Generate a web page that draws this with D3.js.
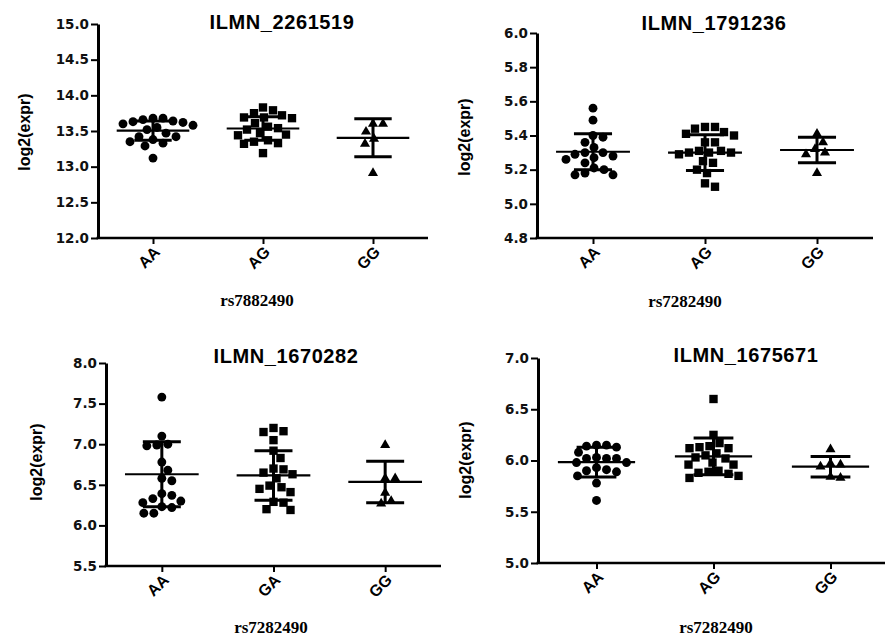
<!DOCTYPE html>
<html>
<head>
<meta charset="utf-8">
<script src="https://cdn.jsdelivr.net/npm/d3@7"></script>
<style>
body { margin: 0; background: #fff; }
</style>
</head>
<body>
<svg id="chart" width="885" height="636"></svg>
<script>
// panel texts
var panelTitles = ["ILMN_2261519", "ILMN_1791236", "ILMN_1670282", "ILMN_1675671"];
var snpLabels = ["rs7882490", "rs7282490", "rs7282490", "rs7282490"];
var genotypes = [["AA", "AG", "GG"], ["AA", "AG", "GG"], ["AA", "GA", "GG"], ["AA", "AG", "GG"]];

// y axes
var yDomains = [[12, 15], [4.8, 6.0], [5.5, 8.0], [5.0, 7.0]];
var yTicks = [
    [12.0, 12.5, 13.0, 13.5, 14.0, 14.5, 15.0],
    [4.8, 5.0, 5.2, 5.4, 5.6, 5.8, 6.0],
    [5.5, 6.0, 6.5, 7.0, 7.5, 8.0],
    [5.0, 5.5, 6.0, 6.5, 7.0]
];

// log2 expression per sample
var p1AA = [13.68, 13.68, 13.66, 13.64, 13.63, 13.62, 13.60, 13.58, 13.55, 13.52, 13.47, 13.42, 13.42, 13.38, 13.35, 13.33, 13.29, 13.12];
var p1AG = [13.83, 13.79, 13.75, 13.72, 13.69, 13.69, 13.68, 13.61, 13.56, 13.54, 13.52, 13.47, 13.45, 13.44, 13.37, 13.35, 13.33, 13.32, 13.19];
var p1GG = [13.60, 13.60, 13.49, 13.39, 13.32, 12.91];

var p2AA = [5.56, 5.49, 5.40, 5.39, 5.36, 5.33, 5.30, 5.30, 5.29, 5.28, 5.27, 5.26, 5.24, 5.21, 5.20, 5.18, 5.17, 5.17];
var p2AG = [5.45, 5.45, 5.44, 5.42, 5.41, 5.40, 5.36, 5.36, 5.31, 5.31, 5.30, 5.30, 5.30, 5.29, 5.25, 5.24, 5.20, 5.18, 5.12, 5.10];
var p2GG = [5.41, 5.36, 5.32, 5.30, 5.29, 5.18];

var p3AA = [7.58, 7.10, 7.00, 6.99, 6.98, 6.78, 6.68, 6.58, 6.55, 6.39, 6.37, 6.33, 6.30, 6.28, 6.23, 6.22, 6.15, 6.15];
var p3GA = [7.20, 7.16, 7.15, 7.05, 6.92, 6.83, 6.70, 6.69, 6.65, 6.63, 6.58, 6.49, 6.47, 6.45, 6.41, 6.29, 6.28, 6.20, 6.19];
var p3GG = [6.99, 6.58, 6.58, 6.40, 6.30, 6.27];

var p4AA = [6.15, 6.15, 6.14, 6.13, 6.08, 6.03, 6.02, 6.02, 6.02, 5.98, 5.98, 5.93, 5.91, 5.90, 5.89, 5.85, 5.78, 5.61];
var p4AG = [6.60, 6.25, 6.17, 6.14, 6.13, 6.12, 6.12, 6.07, 6.05, 6.03, 6.02, 5.98, 5.96, 5.96, 5.90, 5.89, 5.88, 5.87, 5.85, 5.83];
var p4GG = [6.11, 5.97, 5.96, 5.94, 5.84, 5.83];

// mean and SD bars as drawn
var means = [[13.505, 13.535, 13.405], [5.305, 5.30, 5.315], [6.63, 6.615, 6.535], [5.985, 6.04, 5.94]];
var sds = [[0.135, 0.165, 0.265], [0.105, 0.105, 0.075], [0.40, 0.305, 0.255], [0.145, 0.18, 0.10]];

var panelData = [[p1AA, p1AG, p1GG], [p2AA, p2AG, p2GG], [p3AA, p3GA, p3GG], [p4AA, p4AG, p4GG]];

// where each panel sits (the original is a collage)
var layout = [
    {x0: 98,  x1: 428, yb: 238, yt: 24,  tx: 282, ty: 29,  lx: 257, ly: 306, yx: 30,  yy: 132},
    {x0: 537, x1: 873, yb: 238, yt: 33,  tx: 714, ty: 30,  lx: 685, ly: 307, yx: 470, yy: 137},
    {x0: 106, x1: 441, yb: 566, yt: 363, tx: 286, ty: 363, lx: 271, ly: 633, yx: 42,  yy: 462},
    {x0: 538, x1: 889, yb: 563, yt: 358, tx: 746, ty: 362, lx: 716, ly: 633, yx: 471, yy: 460}
];

var symbols = [d3.symbolCircle, d3.symbolSquare, d3.symbolTriangle];
var symbolSizes = [62, 70, 44];

var svg = d3.select("#chart");

// simple beeswarm: spread points with close values sideways
function swarm(values, y, diam) {
    var placed = [];
    var offs = new Array(values.length);
    var order = values.map(function(v, i) { return i; })
        .sort(function(a, b) { return values[b] - values[a]; });
    order.forEach(function(i) {
        var py = y(values[i]);
        for (var k = 0; k < 400; k++) {
            var dx = (k % 2 ? 1 : -1) * Math.ceil(k / 2);
            var ok = placed.every(function(p) {
                return (p.x - dx) * (p.x - dx) + (p.y - py) * (p.y - py) >= diam * diam;
            });
            if (ok) {
                offs[i] = dx;
                placed.push({x: dx, y: py});
                break;
            }
        }
    });
    return offs;
}

panelData.forEach(function(groups, pi) {
    var L = layout[pi];
    var g = svg.append("g");

    var x = d3.scalePoint().domain(genotypes[pi]).range([L.x0, L.x1]).padding(0.5);
    var y = d3.scaleLinear().domain(yDomains[pi]).range([L.yb, L.yt]);
    var step = x.step();

    // Y axis
    var yAxis = d3.axisLeft(y).tickValues(yTicks[pi]).tickFormat(d3.format(".1f"))
        .tickSize(7).tickPadding(2).tickSizeOuter(0);
    var ya = g.append("g")
        .attr("transform", "translate(" + L.x0 + ",0)")
        .call(yAxis);
    ya.select(".domain").attr("stroke-width", 3);
    ya.selectAll(".tick line").attr("stroke-width", 2);
    ya.selectAll(".tick text")
        .attr("font-family", "DejaVu Sans")
        .attr("font-weight", "bold")
        .attr("font-size", 13.5)
        .attr("fill", "#111");

    // X axis
    var xAxis = d3.axisBottom(x).tickSize(6).tickSizeOuter(0).tickFormat("");
    var xa = g.append("g")
        .attr("transform", "translate(0," + L.yb + ")")
        .call(xAxis);
    xa.select(".domain").attr("stroke-width", 2.5)
        .attr("d", "M" + (L.x0 - 1.5) + ",0H" + L.x1);
    xa.selectAll(".tick line").attr("stroke-width", 2);

    genotypes[pi].forEach(function(gt) {
        g.append("text")
            .attr("transform", "translate(" + (x(gt) + 8) + "," + (L.yb + 15) + ") rotate(-45)")
            .attr("text-anchor", "end")
            .attr("font-family", "Liberation Sans, Arial")
            .attr("font-weight", "bold")
            .attr("font-size", 16)
            .text(gt);
    });

    // points
    groups.forEach(function(vals, gi) {
        var cx = x(genotypes[pi][gi]);
        var offs = swarm(vals, y, 10);
        g.selectAll(".pt" + gi)
            .data(vals)
            .enter()
            .append("path")
                .attr("class", "pt" + gi)
                .attr("d", d3.symbol().type(symbols[gi]).size(symbolSizes[gi]))
                .attr("transform", function(d, i) {
                    return "translate(" + (cx + offs[i]) + "," + y(d) + ")";
                })
                .attr("fill", "#000");
    });

    // mean line and SD bars
    groups.forEach(function(vals, gi) {
        var cx = x(genotypes[pi][gi]);
        var m = means[pi][gi], s = sds[pi][gi];
        var mw = step * 0.33, cw = step * 0.17;
        g.append("line")
            .attr("x1", cx - mw).attr("x2", cx + mw)
            .attr("y1", y(m)).attr("y2", y(m))
            .attr("stroke", "#000").attr("stroke-width", 2.2);
        g.append("line")
            .attr("x1", cx).attr("x2", cx)
            .attr("y1", y(m + s)).attr("y2", y(m - s))
            .attr("stroke", "#000").attr("stroke-width", 3);
        [m + s, m - s].forEach(function(v) {
            g.append("line")
                .attr("x1", cx - cw).attr("x2", cx + cw)
                .attr("y1", y(v)).attr("y2", y(v))
                .attr("stroke", "#000").attr("stroke-width", 3);
        });
    });

    // Title
    g.append("text")
        .attr("x", L.tx)
        .attr("y", L.ty)
        .attr("text-anchor", "middle")
        .attr("font-family", "Liberation Sans, Arial")
        .attr("font-weight", "bold")
        .attr("font-size", 20)
        .attr("letter-spacing", 0.6)
        .text(panelTitles[pi]);

    // x label
    g.append("text")
        .attr("x", L.lx)
        .attr("y", L.ly)
        .attr("text-anchor", "middle")
        .attr("font-family", "Liberation Serif, Times New Roman")
        .attr("font-weight", "bold")
        .attr("font-size", 17)
        .text(snpLabels[pi]);

    // y label
    g.append("text")
        .attr("transform", "translate(" + L.yx + "," + L.yy + ") rotate(-90)")
        .attr("text-anchor", "middle")
        .attr("font-family", "Liberation Sans, Arial")
        .attr("font-weight", "bold")
        .attr("font-size", 16)
        .text("log2(expr)");
});
</script>
</body>
</html>
